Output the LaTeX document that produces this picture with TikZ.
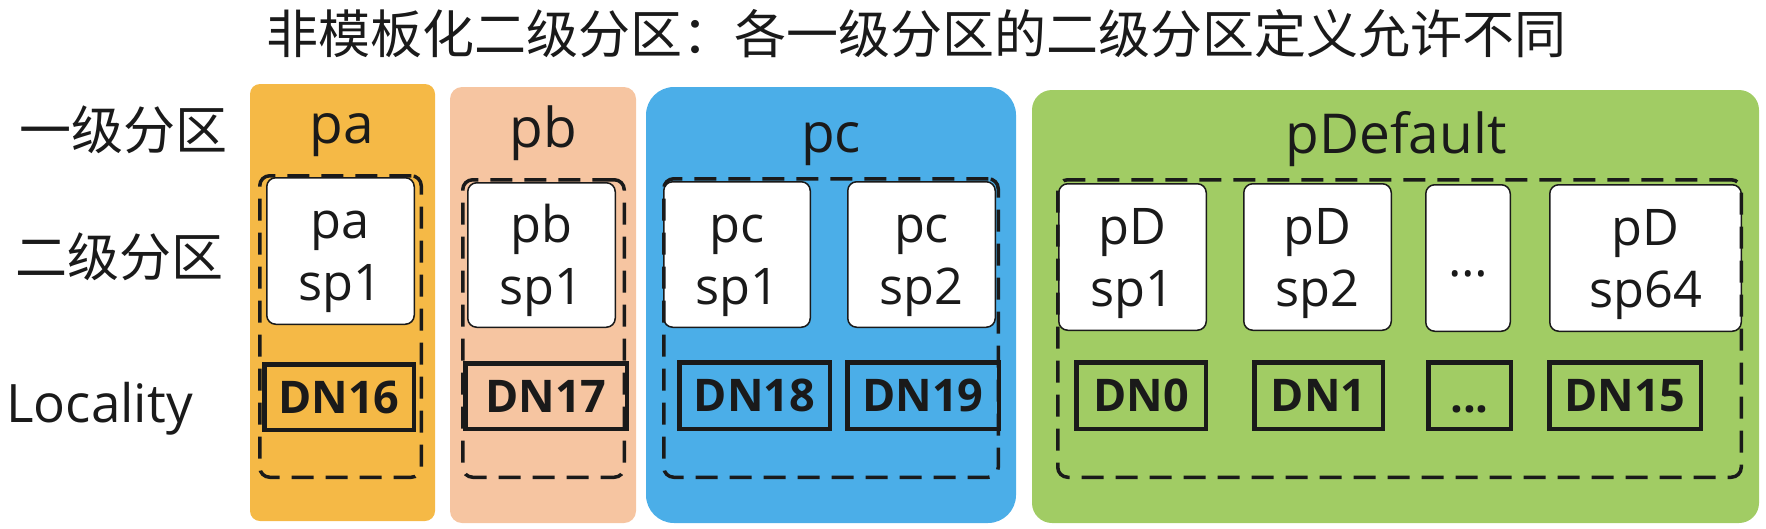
\documentclass[tikz,border=0pt]{standalone}
\usepackage{fontspec}
\setmainfont{Open Sans}
\newfontfamily\cjk{Noto Sans CJK SC}
\definecolor{paorange}{HTML}{F5B946}
\definecolor{pbpeach}{HTML}{F6C5A1}
\definecolor{pcblue}{HTML}{4BAEE8}
\definecolor{pdgreen}{HTML}{A1CC64}
\definecolor{ink}{HTML}{1A1A1A}
\newcommand{\twoline}[2]{\rule{0pt}{51pt}#1\\#2\rule[-14pt]{0pt}{14pt}}

\begin{document}
\begin{tikzpicture}[x=1pt,y=-1pt,
    every node/.style={text=ink},
    wh/.style 2 args={minimum width=#1, minimum height=#2},
    panel/.style={inner sep=0pt},
    group/.style={draw=ink, line width=3.5pt, dash pattern=on 22pt off 12pt, rounded corners=10pt, inner sep=0pt},
    spbox/.style={draw=ink, line width=1.5pt, fill=white, rounded corners=9pt, inner sep=0pt, align=center, font=\fontsize{50.5}{62}\selectfont},
    dnbox/.style={draw=ink, line width=4.5pt, inner sep=0pt, font=\bfseries\fontsize{45}{54}\selectfont},
    ptitle/.style={anchor=base, font=\fontsize{55}{66}\selectfont},
    rowlabel/.style={font=\cjk\fontsize{52}{62}\selectfont}]
    \useasboundingbox (0,0) rectangle (1766,528);

    \node[font=\cjk\fontsize{52}{62}\selectfont] (title) at (916.5,34) {非模板化二级分区：各一级分区的二级分区定义允许不同};
    \node[rowlabel] (lvlone) at (123.5,130) {一级分区};
    \node[rowlabel] (lvltwo) at (120,257) {二级分区};
    \node[anchor=base, font=\fontsize{53}{64}\selectfont] (locality) at (99.5,422) {Locality};

    \node[panel, fill=paorange, rounded corners=10pt, wh={185}{437}] (pa) at (342.5,302.5) {};
    \node[panel, fill=pbpeach, rounded corners=12pt, wh={186}{436}] (pb) at (543,305) {};
    \node[panel, fill=pcblue, rounded corners=28pt, wh={370}{436}] (pc) at (831,305) {};
    \node[panel, fill=pdgreen, rounded corners=20pt, wh={727}{433}] (pd) at (1395.5,306.5) {};

    \node[ptitle] (patitle) at (342,143) {pa};
    \node[ptitle] (pbtitle) at (543,147) {pb};
    \node[ptitle] (pctitle) at (831,152) {pc};
    \node[ptitle] (pdtitle) at (1396,153) {pDefault};

    \node[spbox, wh={147.5}{146.5}] (pasp1) at (340.5,251) {\twoline{pa}{sp1}};
    \node[spbox, wh={147.5}{144.5}] (pbsp1) at (541.5,255) {\twoline{pb}{sp1}};
    \node[spbox, wh={146.5}{145.5}] (pcsp1) at (737,254.5) {\twoline{pc}{sp1}};
    \node[spbox, wh={147.5}{145.5}] (pcsp2) at (921.5,254.5) {\twoline{pc}{sp2}};
    \node[spbox, wh={147.5}{146.5}] (pdsp1) at (1132.5,257) {\twoline{pD}{sp1}};
    \node[spbox, wh={147.5}{146.5}] (pdsp2) at (1317.5,257) {\twoline{pD}{sp2}};
    \node[spbox, wh={84.5}{146.5}, text height=36pt, text depth=0pt] (pdspdots) at (1468,258) {…};
    \node[spbox, wh={191.5}{146.5}] (pdsp64) at (1645.5,258) {\twoline{pD}{sp64}};

    \node[group, wh={161.5}{301.5}] (pagroup) at (340.5,326.5) {};
    \node[group, wh={161.5}{297.5}] (pbgroup) at (543.5,328.5) {};
    \node[group, wh={334.5}{298.5}] (pcgroup) at (831,328) {};
    \node[group, wh={683.5}{297.5}] (pdgroup) at (1399.5,328.5) {};

    \node[dnbox, wh={149.5}{65.5}] (dn16) at (339,397) {DN16};
    \node[dnbox, wh={161.5}{65.5}] (dn17) at (546,396) {DN17};
    \node[dnbox, wh={150.5}{66.5}] (dn18) at (754.5,395.5) {DN18};
    \node[dnbox, wh={151.5}{66.5}] (dn19) at (923,395.5) {DN19};
    \node[dnbox, wh={129.5}{66.5}] (dn0) at (1141,395.5) {DN0};
    \node[dnbox, wh={128.5}{66.5}] (dn1) at (1318.5,395.5) {DN1};
    \node[dnbox, wh={82.5}{66.5}, text height=34pt, text depth=0pt] (dndots) at (1469.5,395.5) {...};
    \node[dnbox, wh={151.5}{66.5}] (dn15) at (1625,395.5) {DN15};
\end{tikzpicture}
\end{document}
